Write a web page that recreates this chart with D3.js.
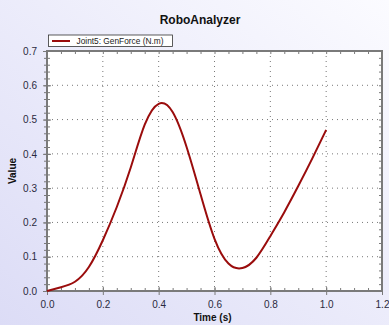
<!DOCTYPE html>
<html>
<head>
<meta charset="utf-8">
<script src="https://cdn.jsdelivr.net/npm/d3@7"></script>
<style>
  body { margin: 0; padding: 0; }
  svg { display: block; font-family: "Liberation Sans", Arial, sans-serif; }
</style>
</head>
<body>
<script>
// series
var times  = [0, 0.05, 0.1, 0.15, 0.2, 0.25, 0.3, 0.35, 0.4, 0.45, 0.5, 0.55, 0.6, 0.65, 0.7, 0.75, 0.8, 0.85, 0.9, 0.95, 1.0];
var values = [0, 0.011, 0.027, 0.07, 0.148, 0.245, 0.36, 0.485, 0.546, 0.522, 0.42, 0.282, 0.152, 0.08, 0.067, 0.097, 0.16, 0.23, 0.306, 0.386, 0.47];
var xTicks = [0, 0.2, 0.4, 0.6, 0.8, 1.0, 1.2];
var yTicks = [0, 0.1, 0.2, 0.3, 0.4, 0.5, 0.6, 0.7];
var seriesName = "Joint5: GenForce (N.m)";

var W = 389, H = 325;
var margin = {top: 51, right: 7, bottom: 34, left: 47};
var width = W - margin.left - margin.right;
var height = H - margin.top - margin.bottom;

var svg = d3.select("body").append("svg")
    .attr("width", W)
    .attr("height", H);

var defs = svg.append("defs");
var grad = defs.append("linearGradient")
    .attr("id", "bg")
    .attr("x1", "100%").attr("y1", "0%")
    .attr("x2", "0%").attr("y2", "100%");
grad.append("stop").attr("offset", "0%").attr("stop-color", "#fbfbff");
grad.append("stop").attr("offset", "100%").attr("stop-color", "#dcdcf6");

svg.append("rect").attr("width", W).attr("height", H).attr("fill", "url(#bg)");

svg.append("text")
    .attr("x", 200).attr("y", 24)
    .attr("text-anchor", "middle")
    .attr("font-size", 12).attr("font-weight", "bold")
    .attr("fill", "#111")
    .text("RoboAnalyzer");

var g = svg.append("g")
    .attr("transform", "translate(" + margin.left + "," + margin.top + ")");

var x = d3.scaleLinear().domain([0, 1.2]).range([0, width]);
var y = d3.scaleLinear().domain([0, 0.7]).range([height, 0]);

g.append("rect").attr("width", width).attr("height", height).attr("fill", "#fff");

// dotted grid
g.selectAll(".vgrid").data(xTicks.slice(1, -1)).enter().append("line")
    .attr("x1", function(d) { return x(d); }).attr("x2", function(d) { return x(d); })
    .attr("y1", 0).attr("y2", height)
    .attr("stroke", "#777").attr("stroke-dasharray", "1,4");
g.selectAll(".hgrid").data(yTicks.slice(1, -1)).enter().append("line")
    .attr("y1", function(d) { return y(d); }).attr("y2", function(d) { return y(d); })
    .attr("x1", 0).attr("x2", width)
    .attr("stroke", "#777").attr("stroke-dasharray", "1,4");

var axisColor = "#7a7a7a";
var xMinor = d3.range(0, 1.2001, 0.05);
var yMinor = d3.range(0, 0.7001, 0.02);

function styleAxis(sel) {
    sel.select(".domain").remove();
    sel.selectAll(".tick line").attr("stroke", axisColor);
}

// bottom axis: major crossing ticks, minor ticks above
var xAxisG = g.append("g").attr("transform", "translate(0," + height + ")");
xAxisG.call(d3.axisBottom(x).tickValues(xMinor).tickSize(-3).tickFormat("")).call(styleAxis);
var xMajor = g.append("g").attr("transform", "translate(0," + (height - 4) + ")");
xMajor.call(d3.axisBottom(x).tickValues(xTicks).tickSize(8).tickPadding(6).tickFormat(d3.format(".1f")))
    .call(styleAxis);
xMajor.selectAll("text").attr("font-size", 10).attr("fill", "#2a2a40")
    .attr("font-family", "Liberation Sans, Arial, sans-serif");

// left axis
var yAxisG = g.append("g");
yAxisG.call(d3.axisLeft(y).tickValues(yMinor).tickSize(3).tickFormat("")).call(styleAxis);
yAxisG.selectAll(".tick line").attr("x2", 3).attr("x1", -3);
var yMajor = g.append("g").attr("transform", "translate(4,0)");
yMajor.call(d3.axisLeft(y).tickValues(yTicks).tickSize(8).tickPadding(6).tickFormat(d3.format(".1f")))
    .call(styleAxis);
yMajor.selectAll("text").attr("font-size", 10).attr("fill", "#2a2a40")
    .attr("font-family", "Liberation Sans, Arial, sans-serif");

// top and right axes, ticks inward
g.append("g").call(d3.axisTop(x).tickValues(xMinor).tickSize(-3).tickFormat("")).call(styleAxis);
g.append("g").attr("transform", "translate(" + width + ",0)")
    .call(d3.axisRight(y).tickValues(yMinor).tickSize(-3).tickFormat("")).call(styleAxis);

// frame
g.append("rect").attr("width", width).attr("height", height)
    .attr("fill", "none").attr("stroke", axisColor).attr("stroke-width", 2);

// series line
var pts = times.map(function(t, i) { return [t, values[i]]; });
var line = d3.line()
    .x(function(d) { return x(d[0]); })
    .y(function(d) { return y(d[1]); })
    .curve(d3.curveNatural);
g.append("path").datum(pts)
    .attr("fill", "none").attr("stroke", "#9a0c0c").attr("stroke-width", 2)
    .attr("d", line);

// legend
var leg = svg.append("g").attr("transform", "translate(48.5,35)");
leg.append("rect").attr("width", 124).attr("height", 11.5)
    .attr("fill", "#fff").attr("stroke", "#333").attr("stroke-width", 0.8);
leg.append("line").attr("x1", 3.5).attr("x2", 21.5).attr("y1", 6).attr("y2", 6)
    .attr("stroke", "#9a0c0c").attr("stroke-width", 2);
leg.append("text").attr("x", 28).attr("y", 9.3)
    .attr("font-size", 9).attr("fill", "#222")
    .attr("textLength", 87).attr("lengthAdjust", "spacingAndGlyphs")
    .text(seriesName);

// axis titles
svg.append("text")
    .attr("x", margin.left + width / 2 - 2).attr("y", 321)
    .attr("text-anchor", "middle")
    .attr("font-size", 10).attr("font-weight", "bold").attr("fill", "#111")
    .text("Time (s)");
svg.append("text")
    .attr("transform", "translate(16," + (margin.top + height / 2) + ") rotate(-90)")
    .attr("text-anchor", "middle")
    .attr("font-size", 10).attr("font-weight", "bold").attr("fill", "#111")
    .text("Value");
</script>
</body>
</html>
